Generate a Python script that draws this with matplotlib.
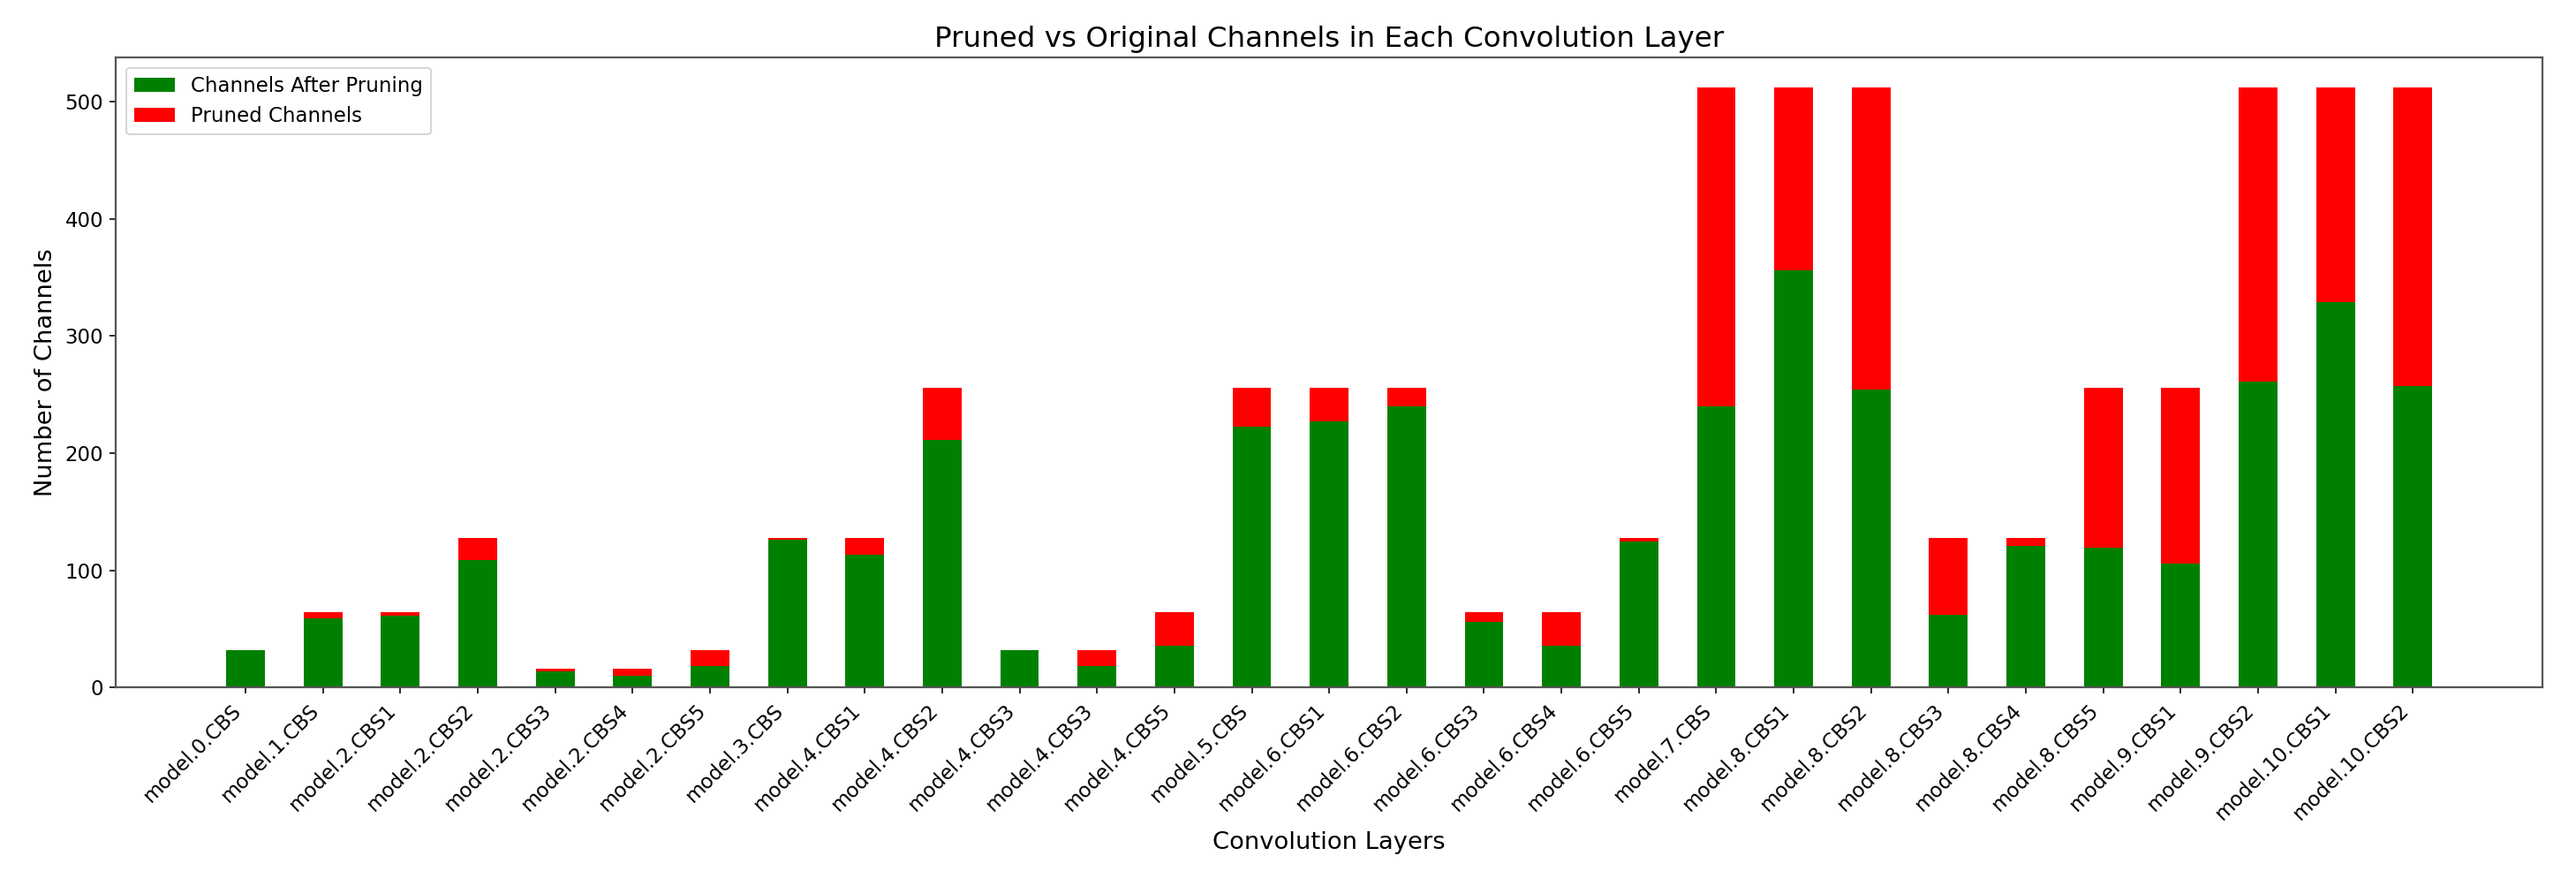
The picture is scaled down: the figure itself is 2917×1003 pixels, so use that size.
import numpy as np
import matplotlib
matplotlib.use("Agg")
import matplotlib.pyplot as plt

# Layer names and channel counts
layers = ["model.0.CBS", "model.1.CBS", "model.2.CBS1", "model.2.CBS2", "model.2.CBS3",
          "model.2.CBS4", "model.2.CBS5", "model.3.CBS", "model.4.CBS1", "model.4.CBS2",
          "model.4.CBS3", "model.4.CBS3", "model.4.CBS5", "model.5.CBS", "model.6.CBS1",
          "model.6.CBS2", "model.6.CBS3", "model.6.CBS4", "model.6.CBS5", "model.7.CBS",
          "model.8.CBS1", "model.8.CBS2", "model.8.CBS3", "model.8.CBS4", "model.8.CBS5",
          "model.9.CBS1", "model.9.CBS2", "model.10.CBS1", "model.10.CBS2"]
original_channels = [32, 64, 64, 128, 16, 16, 32, 128, 128, 256,
                     32, 32, 64, 256, 256, 256, 64, 64, 128, 512,
                     512, 512, 128, 128, 256, 256, 512, 512, 512]
after_pruning = [32, 59, 61, 109, 14, 10, 18, 126, 113, 211,
                 32, 18, 36, 223, 227, 240, 56, 36, 125, 240,
                 356, 254, 62, 121, 119, 106, 261, 329, 257]

pruned = [o - a for o, a in zip(original_channels, after_pruning)]
x = np.arange(len(layers))

dpi = 146
fig = plt.figure(figsize=(2917 / dpi, 1003 / dpi), dpi=dpi)
ax = fig.add_axes([0.045, 0.224, 0.942, 0.711])

ax.bar(x, after_pruning, width=0.5, color='green', label='Channels After Pruning')
ax.bar(x, pruned, width=0.5, bottom=after_pruning, color='red', label='Pruned Channels')

ax.set_xticks(x)
ax.set_xticklabels(layers, rotation=45, ha='right')
ax.tick_params(labelsize=11.3)
ax.set_xlabel('Convolution Layers', fontsize=13.5)
ax.set_ylabel('Number of Channels', fontsize=13.5)
ax.set_title('Pruned vs Original Channels in Each Convolution Layer', fontsize=16)
ax.legend(loc='upper left', fontsize=11.3)

for s in ax.spines.values():
    s.set_color('#555555')
    s.set_linewidth(1.1)

fig.savefig('out.png', dpi=dpi)
